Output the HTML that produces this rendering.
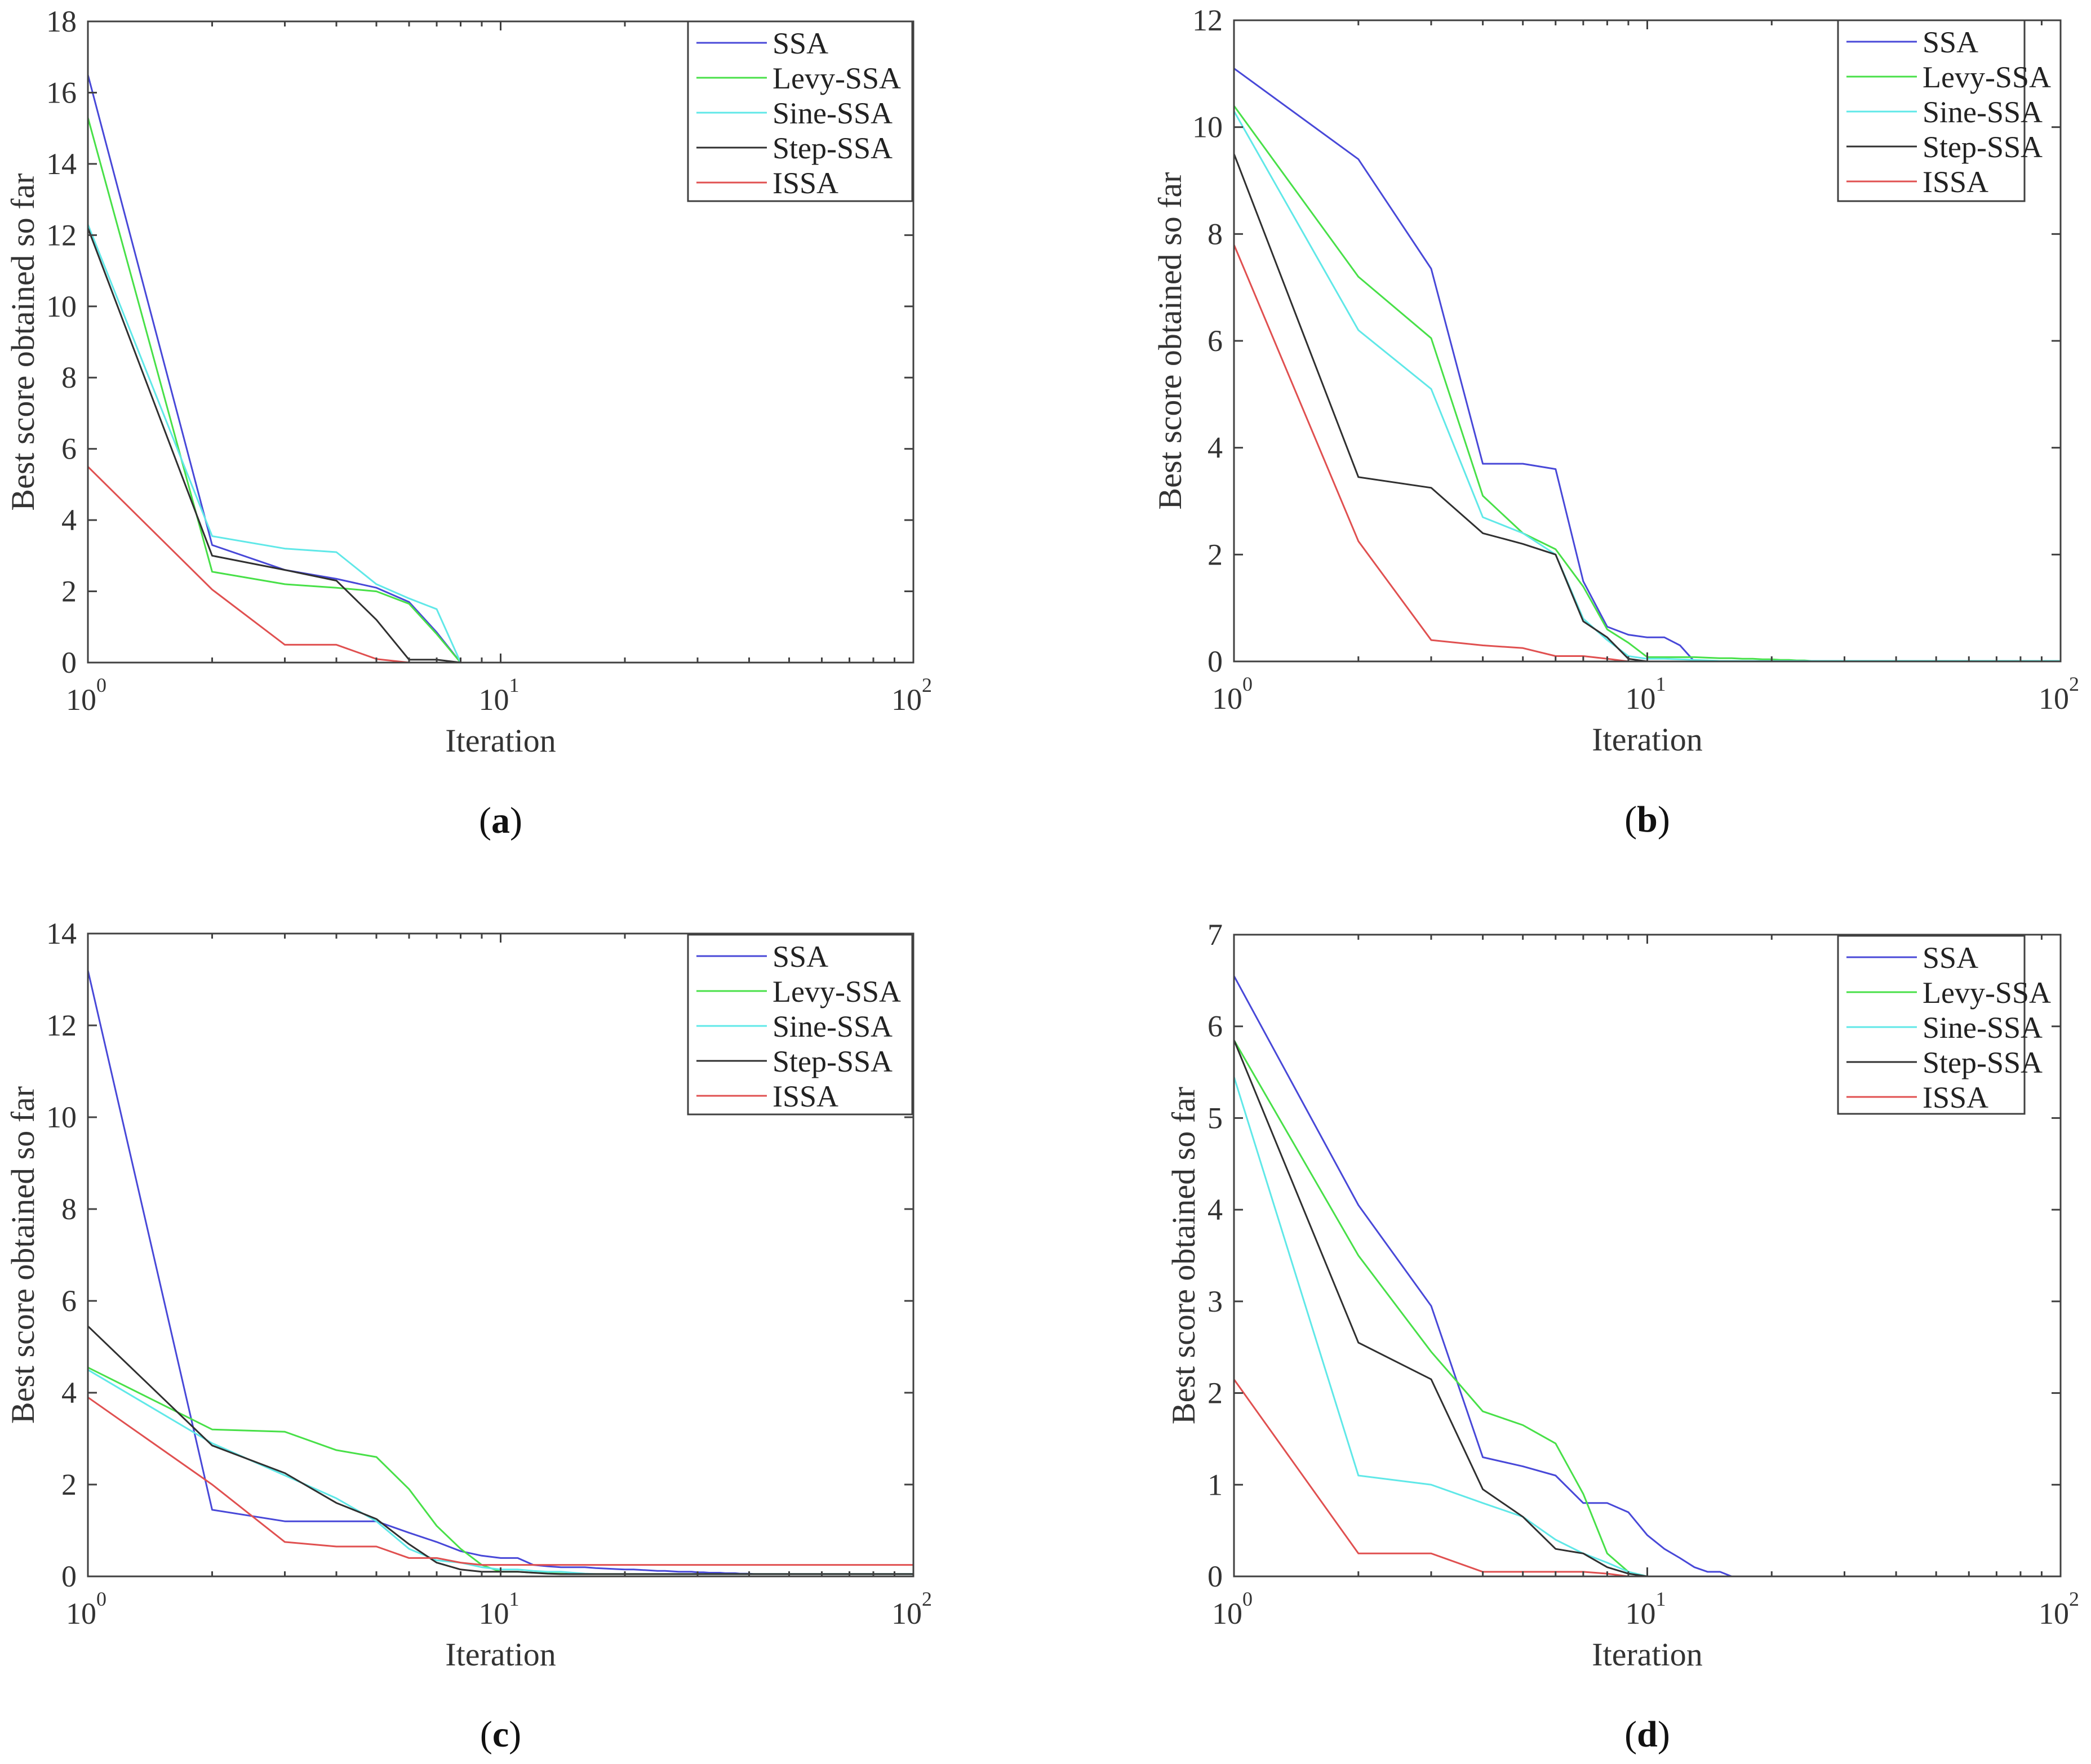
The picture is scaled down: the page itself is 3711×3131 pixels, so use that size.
<!DOCTYPE html>
<html><head><meta charset="utf-8"><style>
html,body{margin:0;padding:0;background:#fff;}
svg{display:block;}
text{font-family:"Liberation Serif","DejaVu Serif",serif;}
</style></head><body>
<svg id="fig" width="3711" height="3131" viewBox="0 0 3711 3131" xmlns="http://www.w3.org/2000/svg"></svg>
<script>
// Shared series
const seriesNames = ["SSA","Levy-SSA","Sine-SSA","Step-SSA","ISSA"];
const seriesColors = ["#4848d8","#48e048","#60e8e8","#303030","#e05050"];
// Panel (a) values per iteration 1..n (extended with last value to 100)
const aSSA  = [16.5,3.3,2.6,2.35,2.1,1.7,0.85,0,0];
const aLevy = [15.3,2.55,2.2,2.1,2.0,1.65,0.8,0,0];
const aSine = [12.3,3.55,3.2,3.1,2.2,1.8,1.5,0,0];
const aStep = [12.2,3.0,2.6,2.3,1.2,0.08,0.08,0,0];
const aISSA = [5.5,2.05,0.5,0.5,0.1,0,0,0,0];
// Panel (b)
const bSSA  = [11.1,9.4,7.35,3.7,3.7,3.6,1.5,0.65,0.5,0.45,0.45,0.3,0,0];
const bLevy = [10.4,7.2,6.05,3.1,2.4,2.1,1.4,0.6,0.35,0.08,0.08,0.08,0.08,0.07,0.06,0.06,0.05,0.05,0.04,0.04,0.03,0.03,0.02,0.02,0.01];
const bSine = [10.3,6.2,5.1,2.7,2.4,2.0,0.8,0.4,0.1,0.05,0.05,0.04,0.03,0.02,0.01];
const bStep = [9.5,3.45,3.25,2.4,2.2,2.0,0.75,0.45,0.05,0,0];
const bISSA = [7.8,2.25,0.4,0.3,0.25,0.1,0.1,0.05,0,0];
// Panel (c)
const cSSA  = [13.2,1.45,1.2,1.2,1.2,0.95,0.75,0.55,0.45,0.4,0.4,0.25,0.22,0.2,0.2,0.2,0.18,0.17,0.16,0.15,0.15,0.14,0.13,0.12,0.12,0.11,0.1,0.1,0.1,0.09,0.09,0.08,0.08,0.08,0.07,0.07,0.07,0.06,0.06,0.06,0.05];
const cLevy = [4.55,3.2,3.15,2.75,2.6,1.9,1.1,0.6,0.25,0.1,0.1,0.08,0.07,0.06,0.05,0.05];
const cSine = [4.5,2.9,2.2,1.7,1.2,0.6,0.35,0.3,0.2,0.15,0.15,0.12,0.1,0.1,0.08,0.06,0.05];
const cStep = [5.45,2.85,2.25,1.6,1.25,0.7,0.3,0.15,0.1,0.1,0.1,0.08,0.06,0.05];
const cISSA = [3.9,2.0,0.75,0.65,0.65,0.4,0.4,0.3,0.25,0.25,0.25];
// Panel (d)
const dSSA  = [6.55,4.05,2.95,1.3,1.2,1.1,0.8,0.8,0.7,0.45,0.3,0.2,0.1,0.05,0.05,0];
const dLevy = [5.85,3.5,2.45,1.8,1.65,1.45,0.9,0.25,0.05,0,0];
const dSine = [5.45,1.1,1.0,0.8,0.65,0.4,0.25,0.15,0.05,0,0];
const dStep = [5.85,2.55,2.15,0.95,0.65,0.3,0.25,0.1,0.03,0,0];
const dISSA = [2.15,0.25,0.25,0.05,0.05,0.05,0.05,0.03,0,0];
// Tick labels
const yTicksA = [0,2,4,6,8,10,12,14,16,18];
const yTicksB = [0,2,4,6,8,10,12];
const yTicksC = [0,2,4,6,8,10,12,14];
const yTicksD = [0,1,2,3,4,5,6,7];
const xTickExps = [0,1,2];

const NS="http://www.w3.org/2000/svg";
const FF='"Liberation Serif","DejaVu Serif",serif';
const svg=document.getElementById('fig');
function mk(tag,attrs,parent){const e=document.createElementNS(NS,tag);for(const k in attrs)e.setAttribute(k,attrs[k]);if(tag==='text')e.setAttribute('font-family',FF);(parent||svg).appendChild(e);return e;}

const panels=[
 {id:'a',L:156,R:1621,T:38,B:1176,ymax:18,yt:yTicksA,data:[aSSA,aLevy,aSine,aStep,aISSA],leg:[1221,38,1619,357],ylx:40},
 {id:'b',L:2190,R:3657,T:36,B:1174,ymax:12,yt:yTicksB,data:[bSSA,bLevy,bSine,bStep,bISSA],leg:[3262,36,3593,357],ylx:2076},
 {id:'c',L:156,R:1621,T:1657,B:2798,ymax:14,yt:yTicksC,data:[cSSA,cLevy,cSine,cStep,cISSA],leg:[1221,1659,1619,1978],ylx:40},
 {id:'d',L:2190,R:3657,T:1659,B:2798,ymax:7,yt:yTicksD,data:[dSSA,dLevy,dSine,dStep,dISSA],leg:[3262,1661,3593,1977],ylx:2100}
];

panels.forEach((p,pi)=>{
  const g=mk('g',{});
  
  
  const xs=v=>p.L+(Math.log10(v)/2)*(p.R-p.L);
  const ys=v=>p.B-(v/p.ymax)*(p.B-p.T);
  p.data.forEach((arr,si)=>{
    const pts=[];
    for(let i=1;i<=100;i++){const v=i<=arr.length?arr[i-1]:arr[arr.length-1];pts.push(xs(i).toFixed(1)+','+ys(v).toFixed(1));}
    const pl=mk('polyline',{points:pts.join(' '),fill:'none',stroke:seriesColors[si],'stroke-width':3,'stroke-linejoin':'round'},g);
    
    
  });
  const box=mk('rect',{x:p.L,y:p.T,width:p.R-p.L,height:p.B-p.T,fill:'none',stroke:'#404040','stroke-width':3},g);
  
  
  p.yt.forEach(t=>{
    const y=ys(t);
    mk('line',{x1:p.L,x2:p.L+16,y1:y,y2:y,stroke:'#404040','stroke-width':3},g);
    mk('line',{x1:p.R,x2:p.R-16,y1:y,y2:y,stroke:'#404040','stroke-width':3},g);
    const tx=mk('text',{x:p.L-20,y:y+18,'text-anchor':'end','font-size':54,fill:'#333'},g);
    tx.textContent=t;
    
    
  });
  for(let d=1;d<=100;d*=10){for(let m=1;m<10;m++){const v=d*m;if(v>100)break;const x=xs(v);const len=(m===1)?16:9;
    mk('line',{x1:x,x2:x,y1:p.B,y2:p.B-len,stroke:'#404040','stroke-width':3},g);
    mk('line',{x1:x,x2:x,y1:p.T,y2:p.T+len,stroke:'#404040','stroke-width':3},g);}}
  xTickExps.forEach(e=>{
    const x=xs(Math.pow(10,e));
    const tx=mk('text',{x:x-12,y:p.B+84,'text-anchor':'middle','font-size':54,fill:'#333'},g);
    tx.textContent='10';
    
    
    const sp=mk('text',{x:x+24,y:p.B+52,'text-anchor':'middle','font-size':36,fill:'#333'},g);
    sp.textContent=String(e);
    
    
  });
  const xl=mk('text',{x:(p.L+p.R)/2,y:p.B+158,'text-anchor':'middle','font-size':58,fill:'#333'},g);
  xl.textContent='Iteration';
  
  
  const ylc=(p.T+p.B)/2;
  const yl=mk('text',{x:p.ylx,y:ylc,'text-anchor':'middle','font-size':58,fill:'#333',transform:'rotate(-90 '+(p.ylx)+' '+ylc+') translate(0 20)'},g);
  yl.textContent='Best score obtained so far';
  
  
  const [lx1,ly1,lx2,ly2]=p.leg;
  const lg=mk('g',{},g);
  
  
  mk('rect',{x:lx1,y:ly1,width:lx2-lx1,height:ly2-ly1,fill:'#fff',stroke:'#404040','stroke-width':3},lg);
  seriesNames.forEach((n,si)=>{
    const y=ly1+38+si*62;
    mk('line',{x1:lx1+15,x2:lx1+140,y1:y,y2:y,stroke:seriesColors[si],'stroke-width':3},lg);
    const t=mk('text',{x:lx1+150,y:y+19,'font-size':54,fill:'#222'},lg);
    t.textContent=n;
    
    
  });
  const cap=mk('text',{x:(p.L+p.R)/2,y:p.B+302,'text-anchor':'middle','font-size':66,fill:'#111'},g);
  cap.innerHTML='(<tspan font-weight="bold">'+p.id+'</tspan>)';
  
  
});
</script>
</body></html>
